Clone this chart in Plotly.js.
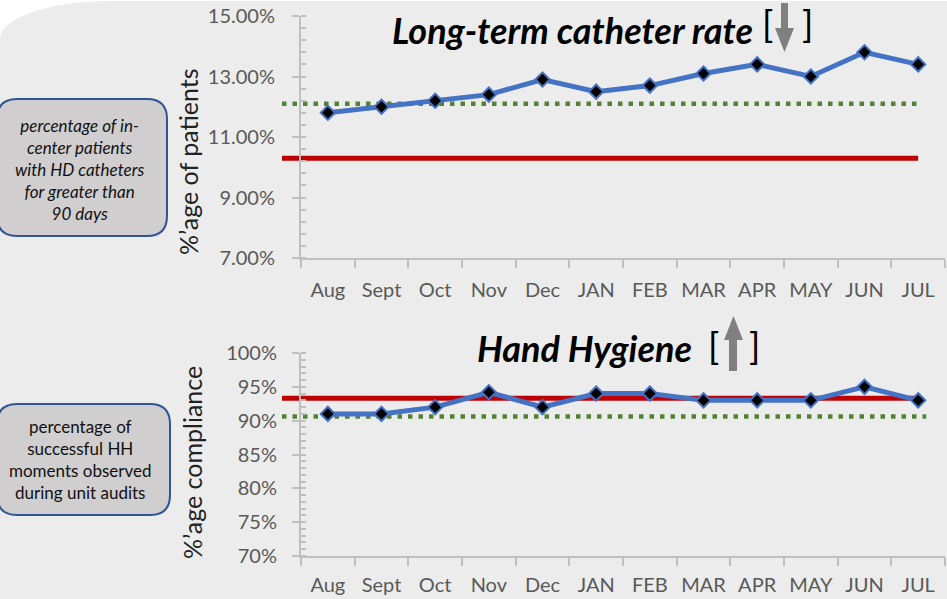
<!DOCTYPE html>
<html><head><meta charset="utf-8">
<script src="https://cdn.plot.ly/plotly-3.0.1.min.js"></script>
<style>
html,body{margin:0;padding:0;background:#ffffff;}
#bg{position:absolute;left:0;top:1px;width:947px;height:598px;background:#ececec;border-top-left-radius:110px 38px;}
#chart{position:absolute;left:0;top:0;width:947px;height:599px;}
</style></head><body>
<div id="bg"></div><div id="chart"></div>
<script>
// ---- data ----
const months = ['Aug','Sept','Oct','Nov','Dec','JAN','FEB','MAR','APR','MAY','JUN','JUL'];
const catheterRate = [11.8, 12.0, 12.2, 12.4, 12.9, 12.5, 12.7, 13.1, 13.4, 13.0, 13.8, 13.4];
const catheterGoal = 12.1;       // green dotted
const catheterBenchmark = 10.3;  // red
const handHygiene = [91, 91, 92, 94.2, 92, 94, 94, 93, 93, 93, 95, 93];
const hygieneGoal = 90.6;        // green dotted
const hygieneBenchmark = 93.3;   // red
const topTitle = 'Long-term catheter rate';
const botTitle = 'Hand Hygiene';
const topYTitle = '%\u2019age of patients';
const botYTitle = '%\u2019age compliance';
const topBoxLines = ['percentage of in-', 'center patients', 'with HD catheters', 'for greater than', '90 days'];
const botBoxLines = ['percentage of', 'successful HH', 'moments observed', 'during unit audits'];

// ---- layout helpers (pixel -> paper) ----
const W = 947, H = 599;
const PX = x => x / W, PY = y => 1 - y / H;
const xDom = [PX(301), PX(945)];
const yDomTop = [PY(258), PY(16)];
const yDomBot = [PY(556), PY(353)];
const catX = i => xDom[0] + (i + 0.5) / months.length * (xDom[1] - xDom[0]);

function rr(x0, y0, x1, y1, r) {
  return `M${PX(x0+r)},${PY(y0)} L${PX(x1-r)},${PY(y0)} Q${PX(x1)},${PY(y0)} ${PX(x1)},${PY(y0+r)} ` +
         `L${PX(x1)},${PY(y1-r)} Q${PX(x1)},${PY(y1)} ${PX(x1-r)},${PY(y1)} L${PX(x0+r)},${PY(y1)} ` +
         `Q${PX(x0)},${PY(y1)} ${PX(x0)},${PY(y1-r)} L${PX(x0)},${PY(y0+r)} Q${PX(x0)},${PY(y0)} ${PX(x0+r)},${PY(y0)} Z`;
}
function poly(pts) {
  return 'M' + pts.map(p => PX(p[0]) + ',' + PY(p[1])).join(' L') + ' Z';
}

const blue = '#4472c4', red = '#c00000', green = '#548235', axc = '#bfbfbf';
const tickFont = {family: 'Lato', size: 20, color: '#595959'};

const lineTrace = (y, xa, ya) => ({
  x: months, y: y, xaxis: xa, yaxis: ya, type: 'scatter', mode: 'lines+markers',
  line: {color: blue, width: 5},
  marker: {symbol: 'diamond', size: 11, color: '#000000', line: {color: blue, width: 2}},
  hoverinfo: 'skip', showlegend: false
});

const data = [lineTrace(catheterRate, 'x', 'y'), lineTrace(handHygiene, 'x2', 'y2')];

const axBase = {showline: true, linecolor: axc, linewidth: 2, showgrid: false, zeroline: false,
  tickcolor: axc, tickwidth: 2, tickfont: tickFont, fixedrange: true};
const xBase = Object.assign({}, axBase, {domain: xDom, type: 'category', range: [-0.5, 11.5],
  ticks: 'outside', ticklen: 8, tickson: 'boundaries', tickangle: 0});

const shapes = [
  // left description boxes
  {type: 'path', xref: 'paper', yref: 'paper', path: rr(-3, 99, 167, 236, 20),
   fillcolor: '#d0cece', line: {color: '#2f5597', width: 2}, layer: 'below'},
  {type: 'path', xref: 'paper', yref: 'paper', path: rr(-3, 404, 170, 515, 20),
   fillcolor: '#d0cece', line: {color: '#2f5597', width: 2}, layer: 'below'},
  // target lines
  {type: 'line', xref: 'paper', yref: 'y', x0: PX(282), x1: catX(11), y0: catheterGoal, y1: catheterGoal,
   line: {color: green, width: 4.5, dash: '4.5px,6px'}, layer: 'below'},
  {type: 'line', xref: 'paper', yref: 'y', x0: PX(282), x1: catX(11), y0: catheterBenchmark, y1: catheterBenchmark,
   line: {color: red, width: 5}, layer: 'below'},
  {type: 'line', xref: 'paper', yref: 'y2', x0: PX(282), x1: catX(11.15), y0: hygieneGoal, y1: hygieneGoal,
   line: {color: green, width: 4.5, dash: '4.5px,6px'}, layer: 'below'},
  {type: 'line', xref: 'paper', yref: 'y2', x0: PX(282), x1: catX(11), y0: hygieneBenchmark, y1: hygieneBenchmark,
   line: {color: red, width: 5}, layer: 'below'},
  // direction arrows
  {type: 'path', xref: 'paper', yref: 'paper', fillcolor: '#808080', line: {width: 0},
   path: poly([[781, 3], [788, 3], [788, 28], [794, 28], [784.5, 52], [775, 28], [781, 28]])},
  {type: 'path', xref: 'paper', yref: 'paper', fillcolor: '#808080', line: {width: 0},
   path: poly([[729, 371], [737, 371], [737, 340], [743, 340], [733.5, 316], [724, 340], [729, 340]])}
];

const ann = (text, x, y, font, extra) => Object.assign({text: text, x: PX(x), y: PY(y), xref: 'paper', yref: 'paper',
  showarrow: false, xanchor: 'center', yanchor: 'middle', font: font}, extra || {});
const titleFont = {family: 'Lato', size: 36, weight: 'bold', style: 'italic', color: '#000000'};
const bracketFont = {family: 'Lato', size: 37, color: '#000000'};
const yTitleFont = {family: 'Lato', size: 25, color: '#222222'};

const annotations = [
  ann(topTitle, 572, 30, titleFont),
  ann('[', 767, 24, bracketFont),
  ann(']', 807, 24, bracketFont),
  ann(botTitle, 584.5, 348, titleFont),
  ann('[', 713, 345, bracketFont),
  ann(']', 754, 345, bracketFont),
  ann(topYTitle, 188, 162, yTitleFont, {textangle: -90}),
  ann(botYTitle, 192, 463, yTitleFont, {textangle: -90}),
  ann(topBoxLines.join('<br>'), 79, 169, {family: 'Lato', size: 17, style: 'italic', color: '#111111'}),
  ann(botBoxLines.join('<br>'), 80, 459, {family: 'Lato', size: 17, color: '#111111'})
];

const layout = {
  width: W, height: H, margin: {l: 0, r: 0, t: 0, b: 0},
  paper_bgcolor: 'rgba(0,0,0,0)', plot_bgcolor: 'rgba(0,0,0,0)',
  showlegend: false,
  xaxis: Object.assign({}, xBase, {anchor: 'y', ticklabelstandoff: 13}),
  xaxis2: Object.assign({}, xBase, {anchor: 'y2', ticklabelstandoff: 10}),
  yaxis: Object.assign({}, axBase, {domain: yDomTop, anchor: 'x', range: [7, 15], tick0: 7, dtick: 2,
    tickformat: '.2f', ticksuffix: '%', ticks: 'outside', ticklen: 7, ticklabelstandoff: 13,
    minor: {tick0: 7, dtick: 0.4, ticks: 'inside', ticklen: 5, tickcolor: axc, tickwidth: 2}}),
  yaxis2: Object.assign({}, axBase, {domain: yDomBot, anchor: 'x2', range: [70, 100], tick0: 70, dtick: 5,
    tickformat: 'd', ticksuffix: '%', ticks: 'outside', ticklen: 7, ticklabelstandoff: 11,
    minor: {tick0: 70, dtick: 1, ticks: 'inside', ticklen: 5, tickcolor: axc, tickwidth: 2}}),
  shapes: shapes,
  annotations: annotations
};

Plotly.newPlot('chart', data, layout, {displayModeBar: false, staticPlot: true});
</script>
</body></html>
